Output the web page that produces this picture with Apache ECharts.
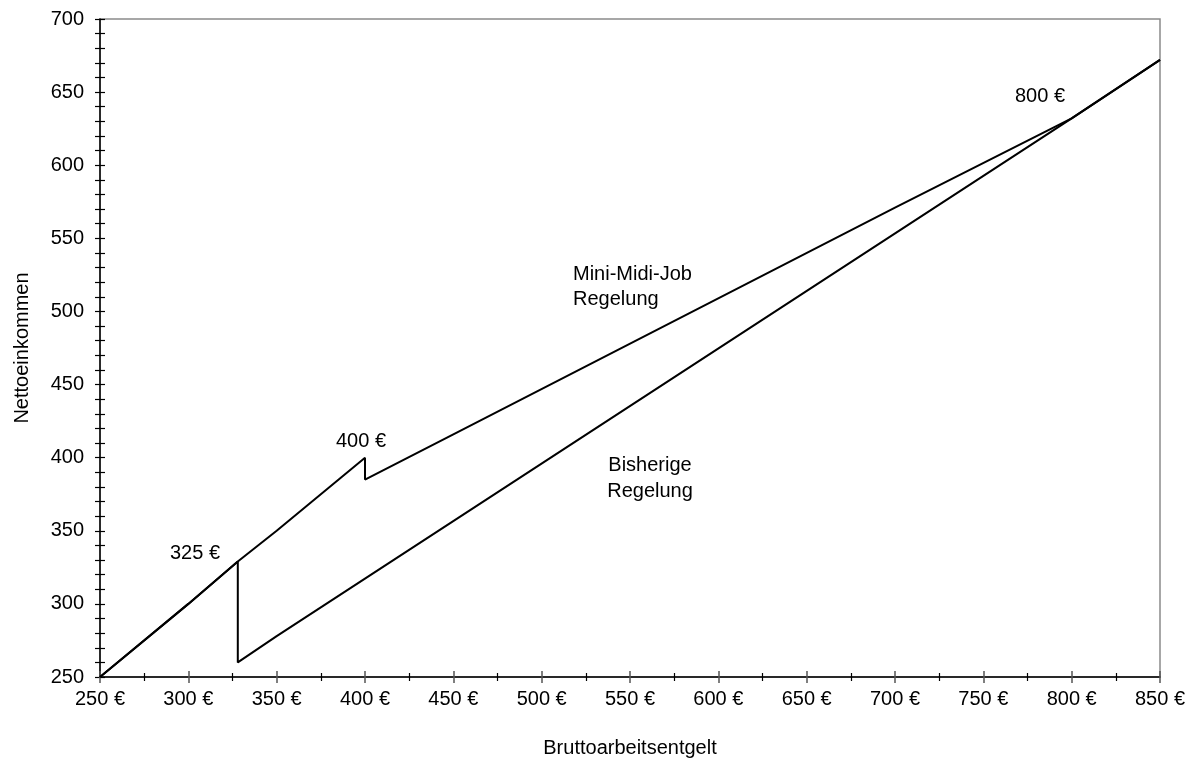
<!DOCTYPE html>
<html>
<head>
<meta charset="utf-8">
<script src="https://cdn.jsdelivr.net/npm/echarts@6/dist/echarts.min.js"></script>
<style>
html,body{margin:0;padding:0;background:#fff;}
#chart{width:1198px;height:760px;}
</style>
</head>
<body>
<div id="chart"></div>
<script>
// Data
const xTicks = [250, 300, 350, 400, 450, 500, 550, 600, 650, 700, 750, 800, 850];
const yTicks = [250, 300, 350, 400, 450, 500, 550, 600, 650, 700];
const bisherigeX = [250, 300, 328, 328, 350, 800, 850];
const bisherigeY = [250, 300, 329, 260, 278, 632, 672];
const miniMidiX = [250, 300, 328, 350, 400, 400, 450, 700, 800, 850];
const miniMidiY = [250, 300, 329, 350, 400, 385, 416, 571, 632, 672];
const annotations = ['325 €', '400 €', '800 €', 'Mini-Midi-Job\nRegelung', 'Bisherige\nRegelung'];
const xName = 'Bruttoarbeitsentgelt';
const yName = 'Nettoeinkommen';

const FONT = 'Liberation Sans, Arial, sans-serif';
const FS = 20;
const pairs = (xs, ys) => xs.map((x, i) => [x, ys[i]]);

const chart = echarts.init(document.getElementById('chart'));

function xAxisDef(withLabels) {
  return {
    type: 'value', position: 'bottom',
    min: xTicks[0], max: xTicks[xTicks.length - 1], interval: 50,
    name: withLabels ? xName : '', nameLocation: 'middle', nameGap: 61,
    nameTextStyle: {fontFamily: FONT, fontSize: FS, color: '#000'},
    axisLine: {show: withLabels, lineStyle: {color: '#000', width: 1.5}},
    axisTick: {show: true, inside: !withLabels, length: 6, lineStyle: {color: '#555', width: 1.5}},
    minorTick: {show: true, splitNumber: 2, length: 4, lineStyle: {color: '#000', width: 1.2}},
    axisLabel: {show: withLabels, margin: 12, fontFamily: FONT, fontSize: FS, color: '#000',
      formatter: v => v + ' €'},
    splitLine: {show: false}
  };
}
function yAxisDef(withLabels) {
  return {
    type: 'value', position: 'left',
    min: yTicks[0], max: yTicks[yTicks.length - 1], interval: 50,
    name: withLabels ? yName : '', nameLocation: 'middle', nameGap: 68,
    nameTextStyle: {fontFamily: FONT, fontSize: FS, color: '#000'},
    axisLine: {show: withLabels, lineStyle: {color: '#000', width: 1.5}},
    axisTick: {show: true, inside: !withLabels, length: 5, lineStyle: {color: '#000', width: 1.2}},
    minorTick: {show: true, splitNumber: 5, length: 5, lineStyle: {color: '#000', width: 1.2}},
    axisLabel: {show: withLabels, margin: 16, fontFamily: FONT, fontSize: FS, color: '#000'},
    splitLine: {show: false}
  };
}

const lineStyle = {color: '#000', width: 2};

chart.setOption({
  animation: false,
  backgroundColor: '#fff',
  grid: {left: 100, right: 38, top: 19, bottom: 83, show: true, borderColor: '#8a8a8a', borderWidth: 1.5, containLabel: false, outerBoundsMode: 'none'},
  xAxis: [xAxisDef(true), xAxisDef(false)],
  yAxis: [yAxisDef(true), yAxisDef(false)],
  series: [
    {name: 'Bisherige Regelung', type: 'line', data: pairs(bisherigeX, bisherigeY), showSymbol: false, symbol: 'none', lineStyle: lineStyle, itemStyle: {color: '#000'}},
    {name: 'Mini-Midi-Job Regelung', type: 'line', data: pairs(miniMidiX, miniMidiY), showSymbol: false, symbol: 'none', lineStyle: lineStyle, itemStyle: {color: '#000'}}
  ],
  graphic: [
    {type: 'text', x: 170, y: 543, style: {text: annotations[0], font: FS + 'px ' + FONT, fill: '#000'}},
    {type: 'text', x: 336, y: 431, style: {text: annotations[1], font: FS + 'px ' + FONT, fill: '#000'}},
    {type: 'text', x: 1015, y: 86, style: {text: annotations[2], font: FS + 'px ' + FONT, fill: '#000'}},
    {type: 'text', x: 573, y: 262, style: {text: annotations[3], font: FS + 'px ' + FONT, fill: '#000', lineHeight: 25, align: 'left'}},
    {type: 'text', x: 650, y: 452, style: {text: annotations[4], font: FS + 'px ' + FONT, fill: '#000', lineHeight: 26, align: 'center'}}
  ]
});
</script>
</body>
</html>
